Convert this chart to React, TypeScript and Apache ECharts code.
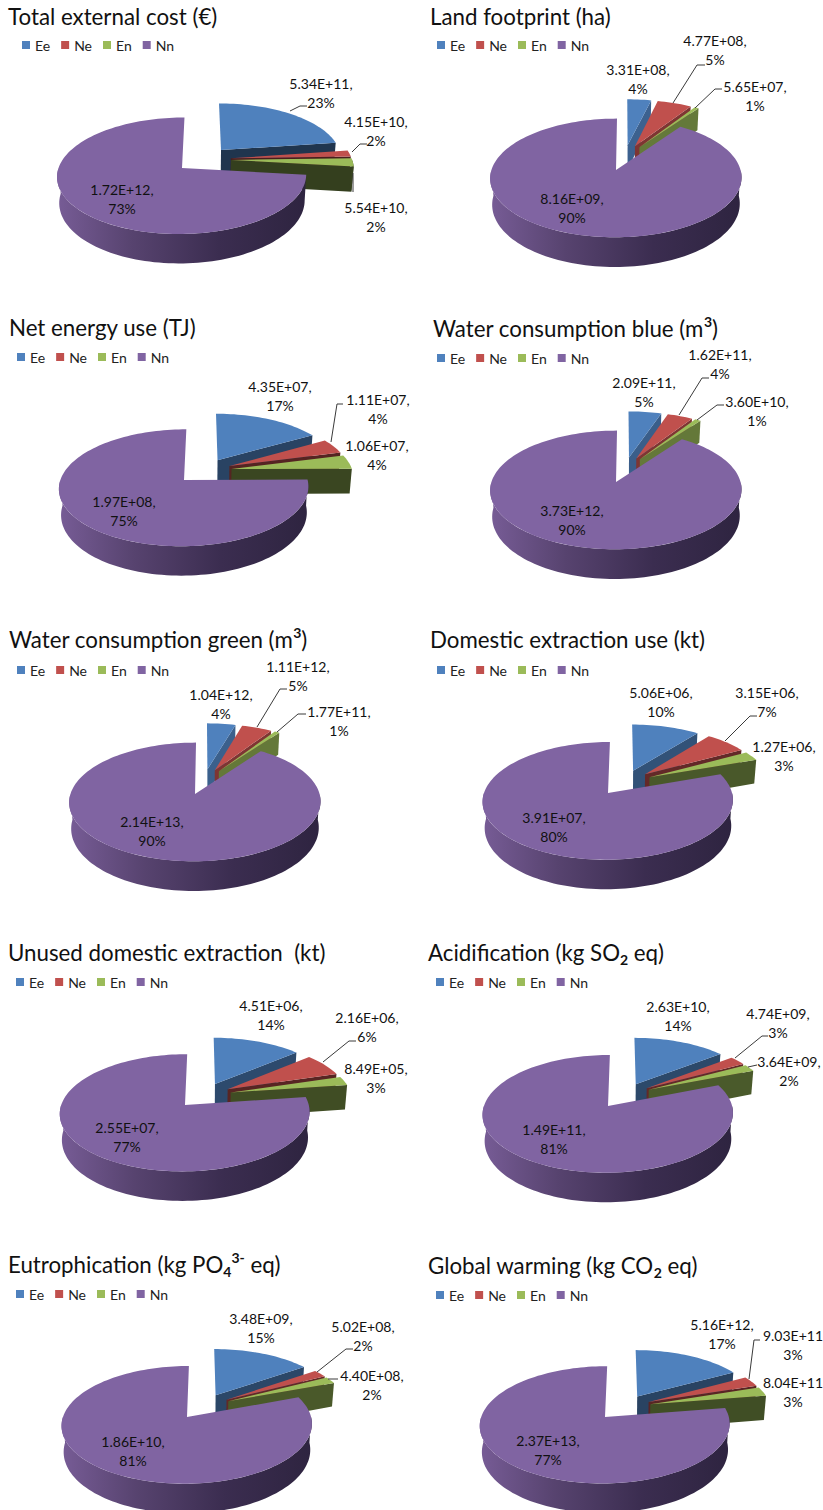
import React, { useEffect, useRef } from "react";
import * as echarts from "echarts";

const FONT = "Lato, Carlito, 'Open Sans', sans-serif";

// ---- data (one entry per panel) ----
const categories = ["Ee", "Ne", "En", "Nn"];
const eeValues = [5.34e11, 3.31e8, 4.35e7, 2.09e11, 1.04e12, 5.06e6, 4.51e6, 2.63e10, 3.48e9, 5.16e12];
const neValues = [4.15e10, 4.77e8, 1.11e7, 1.62e11, 1.11e12, 3.15e6, 2.16e6, 4.74e9, 5.02e8, 9.03e11];
const enValues = [5.54e10, 5.65e7, 1.06e7, 3.6e10, 1.77e11, 1.27e6, 8.49e5, 3.64e9, 4.4e8, 8.04e11];
const nnValues = [1.72e12, 8.16e9, 1.97e8, 3.73e12, 2.14e13, 3.91e7, 2.55e7, 1.49e11, 1.86e10, 2.37e13];
const eePct = [23, 4, 17, 5, 4, 10, 14, 14, 15, 17];
const nePct = [2, 5, 4, 4, 5, 7, 6, 3, 2, 3];
const enPct = [2, 1, 4, 1, 1, 3, 3, 2, 2, 3];
const nnPct = [73, 90, 75, 90, 90, 80, 77, 81, 81, 77];
const titles = [
  "{a|Total external cost (€)}",
  "{a|Land footprint (ha)}",
  "{a|Net energy use (TJ)}",
  "{a|Water consumption blue (m}{sup|3}{a|)}",
  "{a|Water consumption green (m}{sup|3}{a|)}",
  "{a|Domestic extraction use (kt)}",
  "{a|Unused domestic extraction  (kt)}",
  "{a|Acidification (kg SO}{sub|2}{a| eq)}",
  "{a|Eutrophication (kg PO}{sub|4}{sup|3-}{a| eq)}",
  "{a|Global warming (kg CO}{sub|2}{a| eq)}",
];

// ---- layout, styles ----
const titleAt = [[8, 17], [430, 17], [9, 328], [433, 329], [9, 640], [430, 640], [8, 953], [428, 953], [8, 1265], [428, 1266]];
const legendAt = [[22, 46], [437, 46], [17, 358], [437, 359], [17, 671], [437, 671], [16, 983], [436, 983], [16, 1295], [436, 1296]];
const nnApex = [[182, 168], [616, 170], [184, 480], [616, 482], [195, 794], [608, 793], [185, 1105], [608, 1106], [187, 1417], [605, 1417]];
const eeLabelAt = [[321, 92.5], [638, 78.5], [280, 396], [644, 392], [221, 703.5], [661, 702], [271, 1014.5], [678, 1016], [261, 1327.5], [722, 1334]];
const neLabelAt = [[376, 130.5], [715, 49.5], [378, 409], [720, 364], [298, 675.5], [767, 702], [367, 1027], [778, 1022.5], [363, 1335.5], [793, 1344.5]];
const enLabelAt = [[376, 216.5], [755, 96], [377, 455], [757, 410.5], [339, 720.5], [784, 755.5], [376, 1077.5], [789, 1070.5], [372, 1384.5], [793, 1391.5]];
const nnLabelAt = [[122, 198.5], [572, 207.5], [124, 511], [572, 519.5], [152, 830.5], [554, 827], [127, 1137], [554, 1139], [133, 1451], [548, 1449.5]];
const eeLeaders = [[[290, 111], [300, 106], [307, 106]], null, null, null, null, null, null, null, null, null];
const neLeaders = [
  [[352, 152], [360, 144], [367, 144]], [[673, 103], [697, 65], [705, 65]], [[331, 442], [337, 404], [343, 404]],
  [[679, 415], [702, 378], [709, 378]], [[257, 727], [280, 689], [287, 689]], [[725, 741], [750, 716], [757, 716]],
  [[323, 1062], [349, 1041], [356, 1041]], [[735, 1058], [762, 1036], [768, 1036]], [[317, 1372], [346, 1349], [353, 1349]],
  [[749, 1379], [754, 1340], [760, 1340]],
];
const enLeaders = [
  [[353, 173], [353, 192]], [[695, 108], [715, 89], [722, 89]], null, [[697, 420], [717, 405], [724, 405]],
  [[277, 732], [298, 714], [306, 714]], null, null, [[748, 1067], [757, 1065]], [[328, 1379], [338, 1379]], null,
];
const colors = ["#4F81BD", "#C0504D", "#9BBB59", "#8064A2"];

const R = 121; // horizontal radius
const RV = 55; // vertical radius
const K = 0.13; // perspective
const EXPLODE = 0.23;
const DEPTH = 25;
const RAD = Math.PI / 180;

const fmt = (v: number) => {
  const [m, e] = v.toExponential(2).split("e");
  const n = parseInt(e, 10);
  return `${m}E${n < 0 ? "-" : "+"}${String(Math.abs(n)).padStart(2, "0")}`;
};

const shade = (hex: string, f: number) => {
  const n = parseInt(hex.slice(1), 16);
  const c = [(n >> 16) & 255, (n >> 8) & 255, n & 255].map((v) => Math.round(v * f));
  return `rgb(${c[0]},${c[1]},${c[2]})`;
};

const seriesValues = [eeValues, neValues, enValues, nnValues];
const seriesPct = [eePct, nePct, enPct, nnPct];
const seriesLabelAt = [eeLabelAt, neLabelAt, enLabelAt, nnLabelAt];
const seriesLeaders = [eeLeaders, neLeaders, enLeaders, null];

function sliceAngles(panel: number) {
  const vals = seriesValues.map((s) => s[panel]);
  const total = vals.reduce((a, b) => a + b, 0);
  let acc = 0;
  return vals.map((v) => {
    const a = (acc / total) * 360;
    acc += v;
    return [a, (acc / total) * 360];
  });
}

function renderSlice(seriesIdx: number) {
  return (params: any) => {
    const panel = params.dataIndex;
    const angles = sliceAngles(panel);
    const [a0, a1] = angles[seriesIdx];
    const nnMid = ((angles[3][0] + angles[3][1]) / 2) * RAD;

    const X0 = EXPLODE * Math.sin(nnMid);
    const Z0 = EXPLODE * Math.cos(nnMid);
    const d0 = 1 + K * Z0;
    const cx = nnApex[panel][0] - (R * X0) / d0;
    const cy = nnApex[panel][1] + (RV * Z0) / d0;

    const mid = ((a0 + a1) / 2) * RAD;
    const ox = EXPLODE * Math.sin(mid);
    const oz = EXPLODE * Math.cos(mid);

    const top = (deg: number, r: number) => {
      const X = r * Math.sin(deg * RAD) + ox;
      const Z = r * Math.cos(deg * RAD) + oz;
      const d = 1 + K * Z;
      return [cx + (R * X) / d, cy - (RV * Z) / d, d];
    };
    const low = (deg: number, r: number) => {
      const p = top(deg, r);
      return [cx + (p[0] - cx) * 0.985, p[1] + DEPTH / p[2]];
    };
    const xy = (p: number[]) => [p[0], p[1]];

    const arc = (from: number, to: number, fn: (d: number, r: number) => number[]) => {
      const pts: number[][] = [];
      const n = Math.max(2, Math.ceil(Math.abs(to - from) / 2));
      for (let i = 0; i <= n; i++) pts.push(xy(fn(from + ((to - from) * i) / n, 1)));
      return pts;
    };

    const color = colors[seriesIdx];
    const children: any[] = [];

    // cut face at the end of the slice (visible when it looks towards the viewer)
    if (a1 < 180) {
      const f = Math.max(0.3, 0.82 - (0.45 * a1) / 90);
      children.push({
        type: "polygon",
        shape: { points: [xy(top(a1, 0)), xy(top(a1, 1)), xy(low(a1, 1)), xy(low(a1, 0))] },
        style: { fill: shade(color, f) },
      });
    }
    // outer wall, the front half of the rim
    const wa = Math.max(a0, 90);
    const wb = Math.min(a1, 270);
    if (wb > wa) {
      const upper = arc(wa, wb, top);
      const lower = arc(wb, wa, low);
      const fill =
        seriesIdx === 3
          ? new echarts.graphic.LinearGradient(0, 0, 1, 0, [
              { offset: 0, color: "#775C96" },
              { offset: 0.3, color: "#57436F" },
              { offset: 0.65, color: "#3B2D50" },
              { offset: 1, color: "#2E2440" },
            ])
          : shade(color, 0.36);
      children.push({ type: "polygon", shape: { points: upper.concat(lower) }, style: { fill } });
    }
    // top face
    children.push({
      type: "polygon",
      shape: { points: [xy(top(a0, 0))].concat(arc(a0, a1, top)) },
      style: { fill: color },
    });

    // leader line
    const leaders = seriesLeaders[seriesIdx];
    const leader = leaders && leaders[panel];
    if (leader) {
      children.push({
        type: "polyline",
        shape: { points: leader },
        style: { stroke: "#3a3a3a", lineWidth: 1, fill: "none" },
      });
    }
    // data label; the reference's page edge cuts the comma off the two rightmost labels
    const at = seriesLabelAt[seriesIdx][panel];
    const comma = at[0] + 33 <= 823 ? "," : "";
    children.push({
      type: "text",
      style: {
        text: `${fmt(seriesValues[seriesIdx][panel])}${comma}\n${seriesPct[seriesIdx][panel]}%`,
        x: at[0],
        y: at[1],
        align: "center",
        verticalAlign: "middle",
        fontFamily: FONT,
        fontSize: 14,
        lineHeight: 19,
        fill: "#111",
      },
    });
    return { type: "group", children };
  };
}

export default function App() {
  const ref = useRef<HTMLDivElement>(null);
  useEffect(() => {
    if (!ref.current) return;
    const chart = echarts.init(ref.current, undefined, { renderer: "svg" });
    chart.setOption({
      animation: false,
      backgroundColor: "#fff",
      color: colors,
      title: titles.map((text, i) => ({
        text,
        left: titleAt[i][0],
        top: titleAt[i][1] - 15,
        padding: 0,
        textStyle: {
          rich: {
            a: { fontFamily: FONT, fontSize: 22.3, fontWeight: 400, color: "#111", lineHeight: 28 },
            sup: { fontFamily: FONT, fontSize: 14, color: "#111", lineHeight: 14, verticalAlign: "top" },
            sub: { fontFamily: FONT, fontSize: 14, color: "#111", lineHeight: 14, verticalAlign: "bottom" },
          },
        },
      })),
      legend: legendAt.map((p) => ({
        data: categories,
        left: p[0],
        top: p[1] - 8,
        padding: 0,
        icon: "rect",
        itemWidth: 8,
        itemHeight: 8,
        itemGap: 11,
        selectedMode: false,
        textStyle: { fontFamily: FONT, fontSize: 14, color: "#222", padding: 0 },
      })),
      series: categories.map((name, s) => ({
        type: "custom",
        name,
        coordinateSystem: "none",
        silent: true,
        itemStyle: { color: colors[s] },
        data: seriesValues[s],
        renderItem: renderSlice(s),
      })),
    });
    return () => chart.dispose();
  }, []);
  return (
    <div
      ref={ref}
      style={{ position: "absolute", left: 0, top: 0, width: 823, height: 1510, overflow: "hidden" }}
    />
  );
}
